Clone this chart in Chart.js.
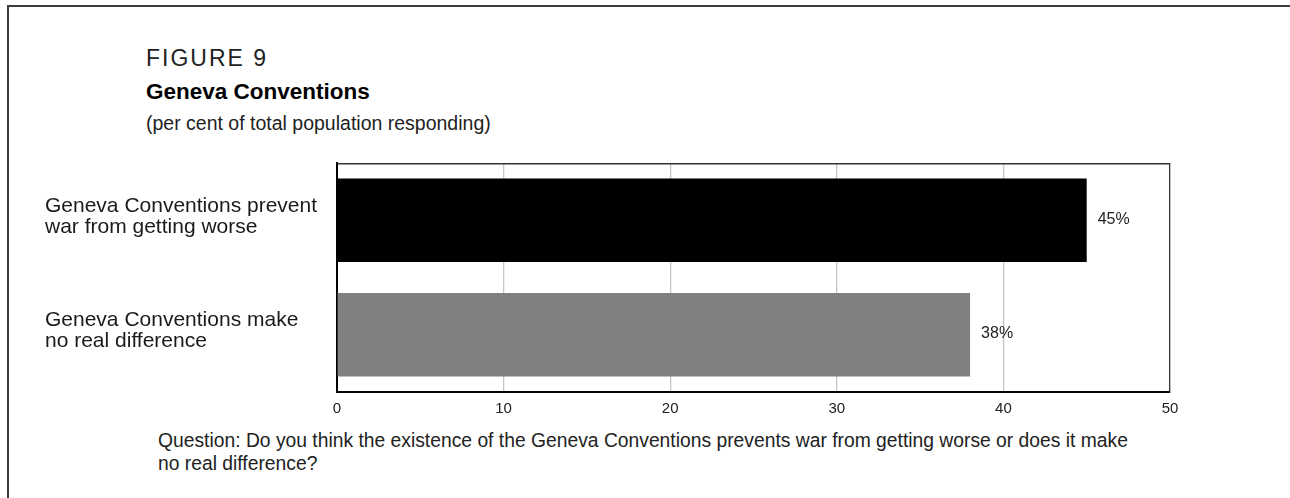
<!DOCTYPE html>
<html>
<head>
<meta charset="utf-8">
<script src="https://cdn.jsdelivr.net/npm/chart.js@4.4.1/dist/chart.umd.min.js"></script>
<style>
  html, body { margin: 0; padding: 0; background: #ffffff; }
  body { width: 1290px; height: 498px; position: relative; overflow: hidden;
         font-family: "Liberation Sans", Arial, sans-serif; color: #1a1a1a; }
  #frame { position: absolute; left: 7px; top: 5px; right: -10px; bottom: -10px;
           border-left: 2px solid #3c3c3c; border-top: 2px solid #3c3c3c; }
  .txt { position: absolute; white-space: nowrap; }
  #fig { left: 146px; top: 47px; font-size: 23px; line-height: 23px; letter-spacing: 2px; color: #222; }
  #title { left: 146px; top: 81px; font-size: 22.5px; line-height: 22.5px; font-weight: bold; color: #000; }
  #sub { left: 146px; top: 114px; font-size: 19.5px; line-height: 19.5px; color: #222; }
  #question { left: 158px; top: 429px; font-size: 19.3px; line-height: 23px; color: #222; }
  #chartBox { position: absolute; left: 0; top: 0; width: 1290px; height: 498px; }
</style>
</head>
<body>
<div id="frame"></div>
<div class="txt" id="fig">FIGURE 9</div>
<div class="txt" id="title">Geneva Conventions</div>
<div class="txt" id="sub">(per cent of total population responding)</div>
<div class="txt" id="question">Question: Do you think the existence of the Geneva Conventions prevents war from getting worse or does it make<br>no real difference?</div>
<div id="chartBox"><canvas id="chart" width="1290" height="498"></canvas></div>
<script>
// Survey answers and their shares of respondents (%)
const categories = [
  ['Geneva Conventions prevent', 'war from getting worse'],
  ['Geneva Conventions make', 'no real difference']
];
const shares = [45, 38];
const axisMin = 0;
const axisMax = 50;
const axisStep = 10;
const barColours = ['#000000', '#808080'];

const FONT = '"Liberation Sans", Arial, sans-serif';

// Top edge of the plot area, drawn behind the bars
const plotFrame = {
  id: 'plotFrame',
  beforeDatasetsDraw(chart) {
    const { ctx, chartArea: a } = chart;
    ctx.save();
    ctx.strokeStyle = '#333333';
    ctx.lineWidth = 1.5;
    ctx.beginPath();
    ctx.moveTo(a.left, a.top + 0.75);
    ctx.lineTo(a.right, a.top + 0.75);
    ctx.stroke();
    ctx.restore();
  }
};

// Percentage label at the end of each bar
const valueLabels = {
  id: 'valueLabels',
  afterDatasetsDraw(chart) {
    const { ctx } = chart;
    const meta = chart.getDatasetMeta(0);
    ctx.save();
    ctx.font = '16px ' + FONT;
    ctx.fillStyle = '#222222';
    ctx.textAlign = 'left';
    ctx.textBaseline = 'middle';
    meta.data.forEach((bar, i) => {
      const v = chart.data.datasets[0].data[i];
      ctx.fillText(v + '%', bar.x + 11, bar.y - 1);
    });
    ctx.restore();
  }
};

new Chart(document.getElementById('chart'), {
  type: 'bar',
  data: {
    labels: categories,
    datasets: [{
      data: shares,
      backgroundColor: barColours,
      borderWidth: 0,
      categoryPercentage: 1,
      barPercentage: 0.73
    }]
  },
  options: {
    indexAxis: 'y',
    responsive: false,
    animation: false,
    layout: { padding: { left: 45, right: 120, top: 163, bottom: 0 } },
    plugins: { legend: { display: false }, tooltip: { enabled: false } },
    scales: {
      x: {
        min: axisMin,
        max: axisMax,
        afterFit(scale) { scale.height = 106; },
        ticks: { stepSize: axisStep, font: { family: FONT, size: 15 }, color: '#222222', padding: 8 },
        grid: {
          drawTicks: false,
          lineWidth: 1.3,
          color: (c) => (c.tick && c.tick.value === axisMax) ? '#333333' : '#c6c6c6'
        },
        border: { color: '#000000', width: 2 }
      },
      y: {
        afterFit(scale) { scale.width = 292; },
        ticks: {
          crossAlign: 'far',
          font: { family: FONT, size: 21, lineHeight: 1.0 },
          color: '#1a1a1a',
          labelOffset: -4
        },
        grid: { display: false, drawTicks: false },
        border: { color: '#000000', width: 2 }
      }
    }
  },
  plugins: [plotFrame, valueLabels]
});
</script>
</body>
</html>
